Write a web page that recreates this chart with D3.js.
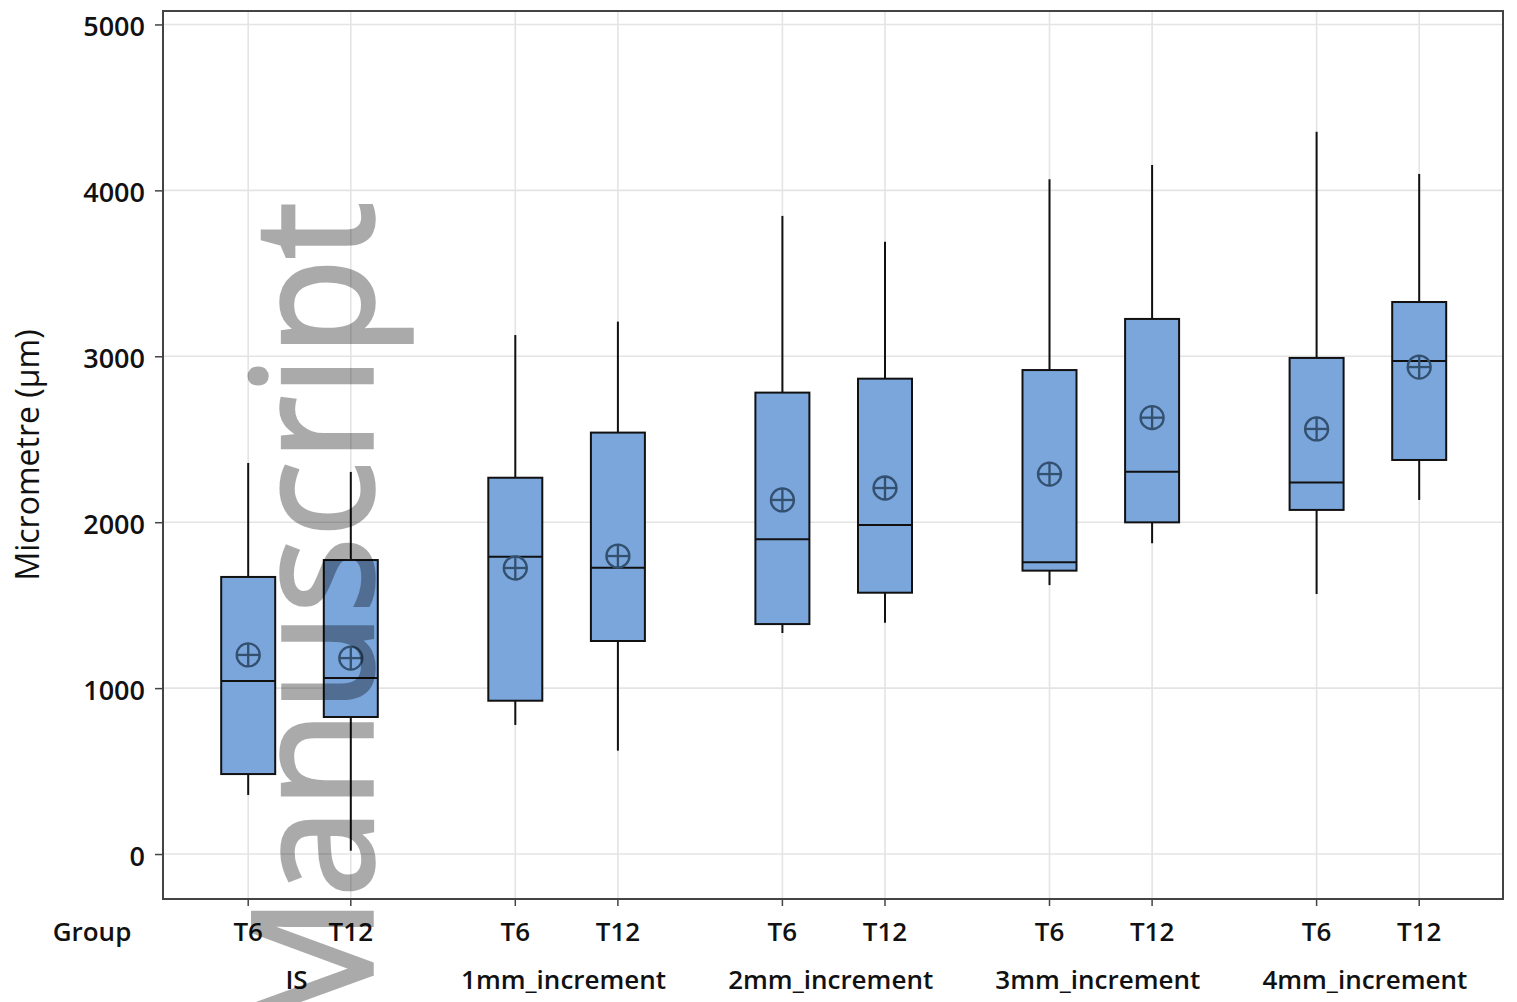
<!DOCTYPE html>
<html>
<head>
<meta charset="utf-8">
<script src="https://cdn.jsdelivr.net/npm/d3@7"></script>
<style>
  html, body { margin: 0; padding: 0; background: #fff; }
  svg { display: block; }
  text { font-family: "Open Sans", "Noto Sans", sans-serif; fill: #111; }
</style>
</head>
<body>
<svg id="chart" width="1517" height="1002"></svg>
<script>
// Groups and time points
const groups = ["IS", "1mm_increment", "2mm_increment", "3mm_increment", "4mm_increment"];
const times = ["T6", "T12"];

// Box statistics (µm), ordered group by group: T6, T12
const whiskerLow  = [356, 20,   778, 623,   1332, 1394,  1621, 1873,  1567, 2134];
const q1          = [482, 826,  924, 1284,  1386, 1575,  1708, 1999,  2074, 2375];
const median      = [1043, 1061, 1792, 1726, 1897, 1983, 1758, 2304, 2240, 2972];
const q3          = [1670, 1772, 2268, 2540, 2781, 2865, 2917, 3225, 2990, 3327];
const whiskerHigh = [2357, 2303, 3128, 3209, 3846, 3691, 4067, 4153, 4353, 4099];
const means       = [1200, 1181, 1724, 1796, 2134, 2206, 2290, 2630, 2562, 2935];

const yTicks = [0, 1000, 2000, 3000, 4000, 5000];

const boxes = [];
groups.forEach((g, gi) => times.forEach((t, ti) => {
  const i = gi * times.length + ti;
  boxes.push({ group: g, time: t, lo: whiskerLow[i], q1: q1[i], med: median[i],
               q3: q3[i], hi: whiskerHigh[i], mean: means[i] });
}));

const svg = d3.select("#chart");
const plot = { left: 163, right: 1503, top: 11, bottom: 899 };

const y = d3.scaleLinear().domain([-271, 5081]).range([plot.bottom, plot.top]);
const xGroup = d3.scalePoint().domain(groups).range([299.5, 1367.9]);
const xTime = d3.scalePoint().domain(times).range([-51.3, 51.3]);
const xPos = d => xGroup(d.group) + xTime(d.time);
const boxW = 54;

// Gridlines
const grid = svg.append("g").attr("stroke", "#e4e4e4").attr("stroke-width", 1.6);
grid.selectAll("line.h").data(yTicks).join("line")
  .attr("x1", plot.left).attr("x2", plot.right)
  .attr("y1", d => y(d)).attr("y2", d => y(d));
grid.selectAll("line.v").data(boxes).join("line")
  .attr("x1", xPos).attr("x2", xPos)
  .attr("y1", plot.top).attr("y2", plot.bottom);

// Y axis
const yAxis = svg.append("g")
  .attr("transform", `translate(${plot.left},0)`)
  .call(d3.axisLeft(y).tickValues(yTicks).tickSize(8).tickPadding(10).tickFormat(d3.format("d")));
yAxis.select(".domain").remove();
yAxis.selectAll(".tick line").attr("stroke", "#444").attr("stroke-width", 1.5);
yAxis.selectAll(".tick text").attr("font-size", 27).attr("font-weight", 600)
  .attr("font-family", "'Open Sans', sans-serif").attr("fill", "#111")
  .attr("dy", "0.42em");

// X axis: time ticks
const xAxisG = svg.append("g").attr("transform", `translate(0,${plot.bottom})`);
xAxisG.selectAll("line").data(boxes).join("line")
  .attr("x1", xPos).attr("x2", xPos).attr("y1", 0).attr("y2", 7)
  .attr("stroke", "#444").attr("stroke-width", 1.5);
xAxisG.selectAll("text.time").data(boxes).join("text")
  .attr("class", "time")
  .attr("x", xPos).attr("y", 42)
  .attr("text-anchor", "middle").attr("font-size", 26).attr("font-weight", 600)
  .text(d => d.time);
xAxisG.selectAll("text.grp").data(groups).join("text")
  .attr("class", "grp")
  .attr("x", d => xGroup(d) - 3).attr("y", 90)
  .attr("text-anchor", "middle").attr("font-size", 26).attr("font-weight", 600)
  .text(d => d);
xAxisG.append("text")
  .attr("x", 92).attr("y", 42).attr("text-anchor", "middle")
  .attr("font-size", 26).attr("font-weight", 600).text("Group");

// Y axis title
svg.append("text")
  .attr("transform", `translate(39,${(plot.top + plot.bottom) / 2}) rotate(-90)`)
  .attr("text-anchor", "middle").attr("font-size", 32)
  .text("Micrometre (µm)");

// Boxes
const bx = svg.append("g");
const item = bx.selectAll("g.box").data(boxes).join("g").attr("class", "box");
item.append("line")
  .attr("x1", xPos).attr("x2", xPos)
  .attr("y1", d => y(d.hi)).attr("y2", d => y(d.q3))
  .attr("stroke", "#111").attr("stroke-width", 2);
item.append("line")
  .attr("x1", xPos).attr("x2", xPos)
  .attr("y1", d => y(d.q1)).attr("y2", d => y(d.lo))
  .attr("stroke", "#111").attr("stroke-width", 2);
item.append("rect")
  .attr("x", d => xPos(d) - boxW / 2).attr("width", boxW)
  .attr("y", d => y(d.q3)).attr("height", d => y(d.q1) - y(d.q3))
  .attr("fill", "#7aa6dc").attr("stroke", "#111").attr("stroke-width", 2);
item.append("line")
  .attr("x1", d => xPos(d) - boxW / 2).attr("x2", d => xPos(d) + boxW / 2)
  .attr("y1", d => y(d.med)).attr("y2", d => y(d.med))
  .attr("stroke", "#111").attr("stroke-width", 2);

// Mean symbols (circled plus)
const r = 11.5;
const mean = item.append("g").attr("transform", d => `translate(${xPos(d)},${y(d.mean)})`)
  .attr("stroke", "#33506f").attr("stroke-width", 2.3).attr("fill", "none");
mean.append("circle").attr("r", r);
mean.append("line").attr("x1", -r).attr("x2", r);
mean.append("line").attr("y1", -r).attr("y2", r);

// Plot frame
svg.append("rect")
  .attr("x", plot.left).attr("y", plot.top)
  .attr("width", plot.right - plot.left).attr("height", plot.bottom - plot.top)
  .attr("fill", "none").attr("stroke", "#444").attr("stroke-width", 2);

// Watermark: translucent as a whole group so the outline thickening does not double up
svg.append("g")
  .attr("opacity", 0.33)
  .append("text")
  .attr("transform", "translate(372,1040) rotate(-90)")
  .attr("font-size", 166)
  .attr("textLength", 838).attr("lengthAdjust", "spacingAndGlyphs")
  .style("fill", "#000").style("stroke", "#000").style("stroke-width", 3.5)
  .style("stroke-linejoin", "miter")
  .text("Manuscript");
</script>
</body>
</html>
